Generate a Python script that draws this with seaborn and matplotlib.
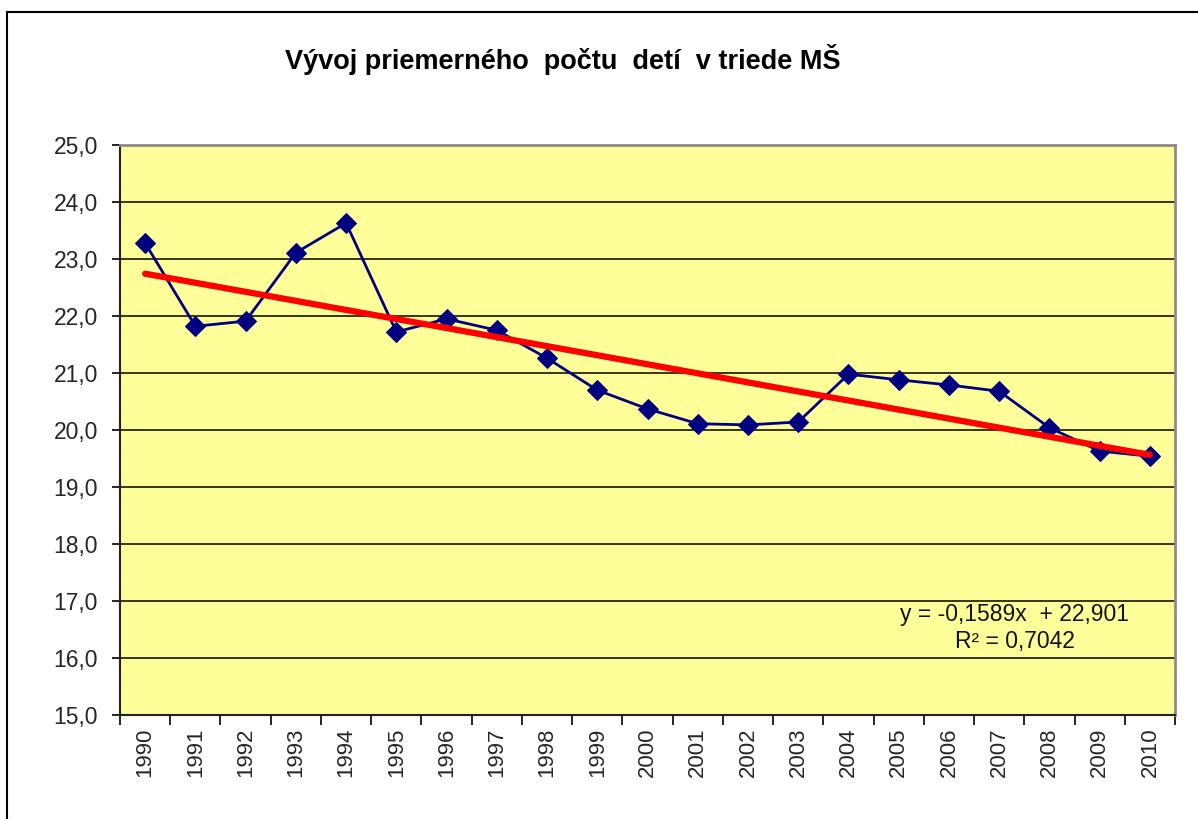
import matplotlib
matplotlib.use("Agg")
import matplotlib.pyplot as plt
import matplotlib.patches as mpatches
from matplotlib.ticker import FixedLocator, FuncFormatter
import seaborn as sns
import pandas as pd
import numpy as np

years = ["1990", "1991", "1992", "1993", "1994", "1995", "1996", "1997", "1998", "1999", "2000",
         "2001", "2002", "2003", "2004", "2005", "2006", "2007", "2008", "2009", "2010"]
avg_children = [23.28, 21.82, 21.91, 23.11, 23.63, 21.72, 21.95, 21.75, 21.26, 20.70, 20.37,
                20.11, 20.09, 20.14, 20.98, 20.88, 20.79, 20.68, 20.04, 19.63, 19.54]
trend_slope = -0.1589
trend_intercept = 22.901
title = "Vývoj priemerného  počtu  detí  v triede MŠ"
eq_text = "y = -0,1589x  + 22,901\nR² = 0,7042"

sns.set_theme(style="white")
plt.rcParams['font.family'] = ['Liberation Sans', 'DejaVu Sans']

pos = np.arange(len(years))
df = pd.DataFrame({"pos": pos, "value": avg_children})
trend_df = pd.DataFrame({"pos": pos, "trend": trend_slope * (pos + 1) + trend_intercept})

fig = plt.figure(figsize=(11.98, 8.19), dpi=100)
ax = fig.add_axes([120/1198, 1 - 715/819, (1175-120)/1198, (715-145)/819])
ax.set_facecolor("#FFFF99")

for yv in range(16, 25):
    ax.axhline(yv, color="#000000", lw=1.1, zorder=1)

sns.lineplot(data=df, x="pos", y="value", ax=ax, color="#000080", lw=2,
             marker="D", markersize=10, markeredgecolor="#000080", zorder=3)
sns.lineplot(data=trend_df, x="pos", y="trend", ax=ax, color="#FF0000", lw=4.5, zorder=4)

ax.set_xlim(-0.5, len(years) - 0.5)
ax.set_ylim(15, 25)
ax.set_xlabel("")
ax.set_ylabel("")

ax.set_xticks(pos)
ax.set_xticklabels(years, rotation=90, fontsize=16)
ax.xaxis.set_minor_locator(FixedLocator(np.arange(-0.5, len(years), 1.0)))
ax.tick_params(axis="x", which="major", length=0, pad=9)
ax.tick_params(axis="x", which="minor", length=7, width=1.2, color="black", direction="out", bottom=True)
ax.set_yticks(np.arange(15, 25.1, 1))
ax.yaxis.set_major_formatter(FuncFormatter(lambda v, p: f"{v:.1f}".replace(".", ",")))
ax.tick_params(axis="y", length=6, width=1.2, color="black", direction="out", left=True, labelsize=16.5, pad=10)

for side in ["left", "bottom"]:
    ax.spines[side].set_color("#222222")
    ax.spines[side].set_linewidth(1.5)
for side in ["top", "right"]:
    ax.spines[side].set_visible(True)
    ax.spines[side].set_color("#8C8C8C")
    ax.spines[side].set_linewidth(2)

ax.text(0.848, 0.153, eq_text, transform=ax.transAxes, ha="center", va="center",
        fontsize=16.5, linespacing=1.2, color="#111111")

fig.text(0.47, 0.927, title, ha="center", va="center", fontsize=19.5, fontweight="bold", color="black")

fig.patches.append(mpatches.Rectangle((7/1198, -0.05), 1.2, 1 - 12/819 + 0.05, transform=fig.transFigure,
                                      fill=False, lw=1.5, edgecolor="black"))

fig.savefig("out.png", dpi=100)
